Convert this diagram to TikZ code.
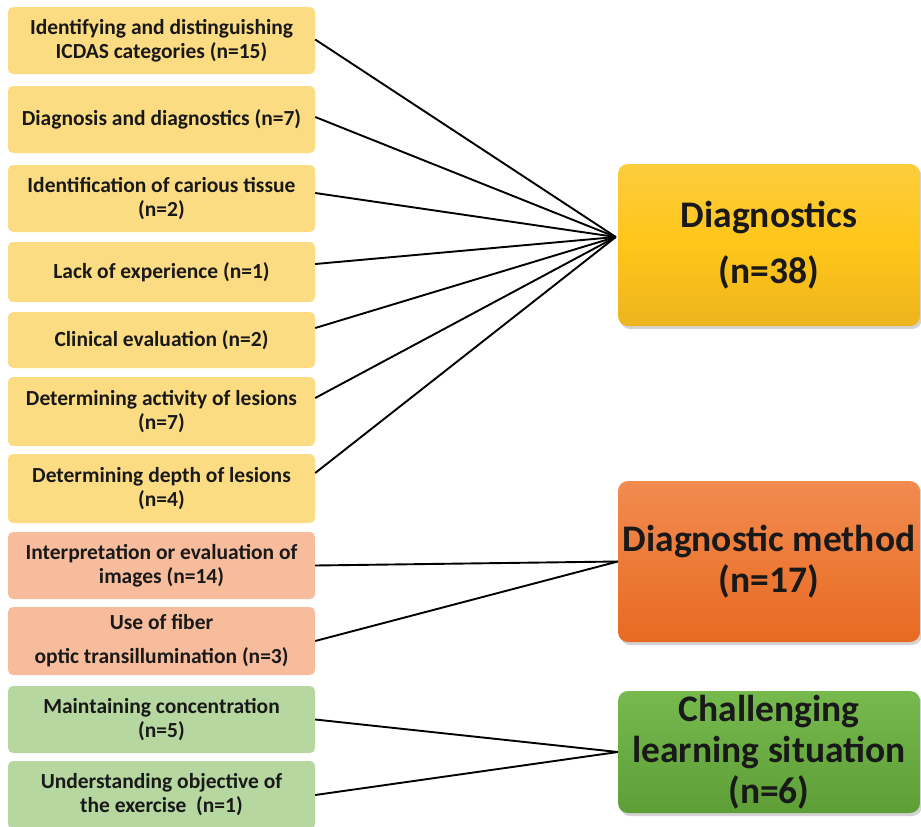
\documentclass[tikz,border=0pt]{standalone}
\usepackage{fontspec}
\setmainfont{Carlito}
\usetikzlibrary{shadows}
\definecolor{ly}{HTML}{FCDC82}
\definecolor{lo}{HTML}{F7BC9C}
\definecolor{lg}{HTML}{B6D7A0}
\definecolor{dyT}{HTML}{FCCC3C}
\definecolor{dyB}{HTML}{EDB41E}
\definecolor{doT}{HTML}{F28B50}
\definecolor{doB}{HTML}{E86A22}
\definecolor{dgT}{HTML}{76BA4E}
\definecolor{dgB}{HTML}{5E9E37}
\begin{document}
\begin{tikzpicture}[x=1pt,y=-1pt,
  leftbox/.style={rectangle, rounded corners=5pt, minimum width=307pt, inner sep=0pt,
    align=center, font=\fontsize{21.5}{24}\selectfont\bfseries, text=black!90},
  rightbox/.style={rectangle, rounded corners=10pt, minimum width=302pt, inner sep=0pt,
    align=center, font=\fontsize{37.5}{41}\selectfont\bfseries, text=black!90,
    drop shadow={opacity=0.35, shadow xshift=2pt, shadow yshift=-3pt}},
  conn/.style={line width=1.9pt, black}]
\useasboundingbox (0,0) rectangle (921,827);
% left boxes
\node[leftbox, fill=ly, minimum height=67pt] (l1) at (161.5,40.5) {Identifying and distinguishing\\ICDAS categories (n=15)};
\node[leftbox, fill=ly, minimum height=67pt] (l2) at (161.5,119.5) {Diagnosis and diagnostics (n=7)};
\node[leftbox, fill=ly, minimum height=67pt] (l3) at (161.5,198.5) {Identification of carious tissue\\(n=2)};
\node[leftbox, fill=ly, minimum height=60pt] (l4) at (161.5,272) {Lack of experience (n=1)};
\node[leftbox, fill=ly, minimum height=56pt] (l5) at (161.5,340) {Clinical evaluation (n=2)};
\node[leftbox, fill=ly, minimum height=69pt] (l6) at (161.5,411.5) {Determining activity of lesions\\(n=7)};
\node[leftbox, fill=ly, minimum height=69pt] (l7) at (161.5,488.5) {Determining depth of lesions\\(n=4)};
\node[leftbox, fill=lo, minimum height=67pt] (l8) at (161.5,565.5) {Interpretation or evaluation of\\images (n=14)};
\node[leftbox, fill=lo, minimum height=68pt] (l9) at (161.5,641) {Use of fiber\\[10pt]optic transillumination (n=3)};
\node[leftbox, fill=lg, minimum height=67pt] (l10) at (161.5,719.5) {Maintaining concentration\\(n=5)};
\node[leftbox, fill=lg, minimum height=68pt] (l11) at (161.5,795) {Understanding objective of\\the exercise~~(n=1)};
% right boxes
\node[rightbox, top color=dyT, bottom color=dyB, middle color=yellow!50!orange!90!white, minimum height=162pt] (r1) at (769,245)
  {Diagnostics\\[15pt](n=38)};
\node[rightbox, top color=doT, bottom color=doB, minimum height=161pt] (r2) at (769,561.5)
  {Diagnostic method\\(n=17)};
\node[rightbox, top color=dgT, bottom color=dgB, minimum height=122pt] (r3) at (769,752)
  {Challenging\\learning situation\\(n=6)};
% connectors
\coordinate (c1) at ([yshift=8pt,xshift=-2pt]r1.west);
\draw[conn] ([yshift=1pt]l1.east) -- (c1);
\draw[conn] ([yshift=2.5pt]l2.east) -- (c1);
\draw[conn] ([yshift=5.5pt]l3.east) -- (c1);
\draw[conn] ([yshift=8pt]l4.east) -- (c1);
\draw[conn] ([yshift=12pt]l5.east) -- (c1);
\draw[conn] ([yshift=13.5pt]l6.east) -- (c1);
\draw[conn] ([yshift=15.5pt]l7.east) -- (c1);
\draw[conn] (l8.east) -- (r2.west);
\draw[conn] (l9.east) -- (r2.west);
\draw[conn] (l10.east) -- (r3.west);
\draw[conn] (l11.east) -- (r3.west);
\end{tikzpicture}
\end{document}
